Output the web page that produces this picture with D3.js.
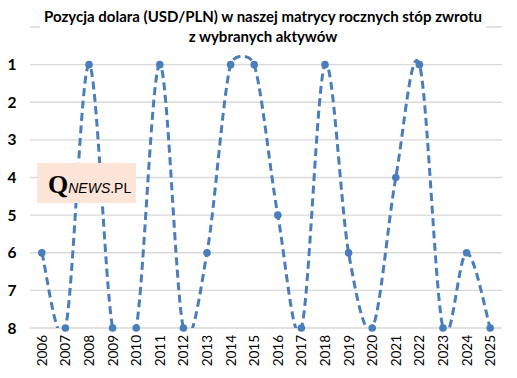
<!DOCTYPE html>
<html lang="en">

<head>
    <meta charset="utf-8">
    <script src='https://d3js.org/d3.v7.min.js'></script>
    <style>
        body { margin: 0; background: #fff; }
    </style>
</head>

<body>
    <div id="chart"></div>

    <script>
        // data
        const years = ["2006", "2007", "2008", "2009", "2010", "2011", "2012", "2013", "2014", "2015",
            "2016", "2017", "2018", "2019", "2020", "2021", "2022", "2023", "2024", "2025"];
        const positions = [6, 8, 1, 8, 8, 1, 8, 6, 1, 1, 5, 8, 1, 6, 8, 4, 1, 8, 6, 8];
        const yTicks = [1, 2, 3, 4, 5, 6, 7, 8];
        const gridValues = [0, 1, 2, 3, 4, 5, 6, 7, 8];

        const width = 517;
        const height = 378;
        const blue = "#4a7ebb";
        const font = "Lato, 'Open Sans', sans-serif";

        // Excel style smoothed line: catmull-rom control points (1/6),
        // each one capped at half the segment length
        function excelSmooth(context) {
            let pts;
            function ctrl(p, a, b, d, sign) {
                let vx = (b[0] - a[0]) / 6, vy = (b[1] - a[1]) / 6;
                const len = Math.hypot(vx, vy);
                if (len > d / 2) {
                    vx *= d / 2 / len;
                    vy *= d / 2 / len;
                }
                return [p[0] + sign * vx, p[1] + sign * vy];
            }
            return {
                areaStart() { },
                areaEnd() { },
                lineStart() { pts = []; },
                point(x, y) { pts.push([+x, +y]); },
                lineEnd() {
                    const n = pts.length;
                    if (!n) return;
                    context.moveTo(pts[0][0], pts[0][1]);
                    for (let i = 0; i < n - 1; i++) {
                        const p0 = pts[Math.max(i - 1, 0)], p1 = pts[i], p2 = pts[i + 1], p3 = pts[Math.min(i + 2, n - 1)];
                        const d12 = Math.hypot(p2[0] - p1[0], p2[1] - p1[1]);
                        const c1 = ctrl(p1, p0, p2, d12, 1);
                        const c2 = ctrl(p2, p1, p3, d12, -1);
                        context.bezierCurveTo(c1[0], c1[1], c2[0], c2[1], p2[0], p2[1]);
                    }
                }
            };
        }

        const svg = d3.select("#chart").append("svg")
            .attr("width", width)
            .attr("height", height);

        // scales
        const x = d3.scalePoint()
            .domain(years)
            .range([30, 502])
            .padding(0.5);

        const y = d3.scaleLinear()
            .domain([0, 8])
            .range([27, 328]);

        // gridlines
        svg.append("g")
            .selectAll("line")
            .data(gridValues)
            .enter()
            .append("line")
            .attr("x1", 30).attr("x2", 502)
            .attr("y1", d => y(d)).attr("y2", d => y(d))
            .attr("stroke", "#d9d9d9")
            .attr("stroke-width", 1.3);

        // y labels
        svg.append("g")
            .selectAll("text")
            .data(yTicks)
            .enter()
            .append("text")
            .attr("x", 12)
            .attr("y", d => y(d))
            .attr("dy", "0.36em")
            .attr("text-anchor", "middle")
            .style("font-family", font)
            .style("font-weight", "bold")
            .style("font-size", "15.5px")
            .text(d => d);

        // x labels, rotated
        svg.append("g")
            .selectAll("text")
            .data(years)
            .enter()
            .append("text")
            .attr("transform", d => "translate(" + (x(d) + 5) + ",335) rotate(-90)")
            .attr("text-anchor", "end")
            .style("font-family", font)
            .style("font-size", "13.5px")
            .text(d => d);

        // clip for the curve
        svg.append("clipPath")
            .attr("id", "plot")
            .append("rect")
            .attr("x", 30).attr("y", y(0))
            .attr("width", 472).attr("height", y(8) - y(0));

        const line = d3.line()
            .x((d, i) => x(years[i]))
            .y(d => y(d))
            .curve(excelSmooth);

        svg.append("path")
            .datum(positions)
            .attr("clip-path", "url(#plot)")
            .attr("fill", "none")
            .attr("stroke", blue)
            .attr("stroke-width", 3)
            .attr("stroke-dasharray", "8,4.5")
            .attr("d", line);

        svg.append("g")
            .selectAll("circle")
            .data(positions)
            .enter()
            .append("circle")
            .attr("cx", (d, i) => x(years[i]))
            .attr("cy", d => y(d))
            .attr("r", 3.8)
            .attr("fill", blue);

        // title, with white behind it over the top gridline
        const title = svg.append("g");
        title.append("rect")
            .attr("x", 40).attr("y", 5).attr("width", 446).attr("height", 42)
            .attr("fill", "#fff");
        title.selectAll("text")
            .data(["Pozycja dolara (USD/PLN) w naszej matrycy rocznych stóp zwrotu", "z wybranych aktywów"])
            .enter()
            .append("text")
            .attr("x", 263)
            .attr("y", (d, i) => 22 + i * 20)
            .attr("text-anchor", "middle")
            .style("font-family", font)
            .style("font-weight", "bold")
            .style("font-size", "15px")
            .text(d => d);

        // logo box
        const logo = svg.append("g");
        logo.append("rect")
            .attr("x", 37).attr("y", 163).attr("width", 99).attr("height", 40)
            .attr("fill", "#fce4d6");
        const logoText = logo.append("text")
            .attr("x", 48).attr("y", 193);
        logoText.append("tspan")
            .style("font-family", "'Liberation Serif', serif")
            .style("font-weight", "bold")
            .style("font-size", "26px")
            .text("Q");
        logoText.append("tspan")
            .style("font-family", "'Liberation Sans', sans-serif")
            .style("font-style", "italic")
            .style("font-size", "14px")
            .text("NEWS");
        logoText.append("tspan")
            .style("font-family", "'Liberation Sans', sans-serif")
            .style("font-size", "14px")
            .text(".PL");
    </script>
</body>

</html>
